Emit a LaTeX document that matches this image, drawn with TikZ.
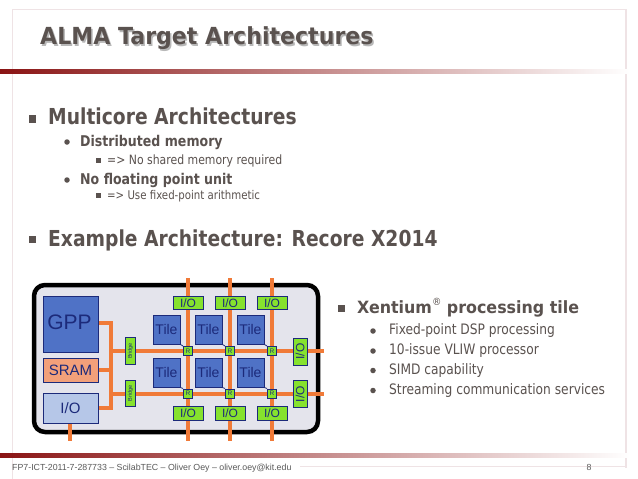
\documentclass[tikz,border=0pt]{standalone}
\usepackage{fontspec}
\setmainfont{DejaVu Sans}
\newfontfamily\tah[FakeStretch=0.85]{DejaVu Sans}
\newfontfamily\tahw[FakeStretch=0.94]{DejaVu Sans}
\newfontfamily\arialf{Liberation Sans}
\definecolor{txt}{HTML}{5A524F}
\definecolor{framec}{HTML}{EFE3E5}
\definecolor{darkred}{HTML}{8A1414}
\definecolor{chip}{HTML}{E4E4EC}
\definecolor{blu}{HTML}{4F72C6}
\definecolor{navy}{HTML}{1C2A7A}
\definecolor{sram}{HTML}{F2A07A}
\definecolor{lio}{HTML}{B6C7E8}
\definecolor{grn}{HTML}{86E22E}
\definecolor{orng}{HTML}{F07A38}
\pgfdeclarelayer{back}
\pgfdeclarelayer{lines}
\pgfsetlayers{back,lines,main}
\tikzset{
  txtnode/.style={anchor=base west, inner sep=0pt, text=txt, font=\tah},
  sqbul/.style={fill=txt, minimum size=#1, inner sep=0pt},
  dotbul/.style={circle, fill=txt, minimum size=#1, inner sep=0pt},
  box/.style={draw=navy, line width=1pt, inner sep=0pt, text=navy, font=\arialf},
  greenbox/.style={box, fill=grn},
  tilebox/.style={box, fill=blu, minimum width=27pt, minimum height=29pt, font=\arialf\fontsize{14}{14}\selectfont},
  rbox/.style={greenbox, minimum size=9pt, font=\arialf\fontsize{6.5}{6.5}\selectfont},
  iobox/.style={greenbox, minimum width=30pt, minimum height=13.5pt, font=\arialf\fontsize{12}{12}\selectfont},
  sidebox/.style={greenbox, minimum width=14pt, minimum height=27pt, font=\arialf\fontsize{12}{12}\selectfont},
  bridgebox/.style={greenbox, minimum width=9.5pt, minimum height=26.5pt, font=\arialf\fontsize{5.5}{5.5}\selectfont},
  bus/.style={draw=orng, line width=4pt},
}
\begin{document}
\begin{tikzpicture}[x=1pt,y=-1pt]
\begin{pgfonlayer}{back}
\fill[white] (0,0) rectangle (638,479);
\end{pgfonlayer}
\useasboundingbox (0,0) rectangle (638,479);
% frame
\begin{pgfonlayer}{back}
\draw[framec, line width=1.8pt] (12.5,479) -- (12.5,9.5) -- (626,9.5) -- (626,468);
\draw[framec, line width=1.2pt] (300,466.5) -- (626,466.5);
% gradient lines
\shade[left color=darkred, right color=white] (0,69) rectangle (630,73);
\shade[left color=darkred, right color=white] (0,453) rectangle (630,457);
\end{pgfonlayer}
% title
\node[txtnode, text=black!28, font=\tahw] at (41.5,46.5) {\fontsize{23.5}{23.5}\selectfont\bfseries ALMA Target Architectures};
\node[txtnode, font=\tahw] (title) at (40,45) {\fontsize{23.5}{23.5}\selectfont\bfseries ALMA Target Architectures};
% bullets level 1
\node[sqbul=7.5pt] (b1) at (32.5,119) {};
\node[txtnode] (t1) at (48,124) {\fontsize{22}{22}\selectfont\bfseries Multicore Architectures};
\node[dotbul=5.5pt] (b11) at (67,142) {};
\node[txtnode] (t11) at (80,146) {\fontsize{14.8}{14.8}\selectfont\bfseries Distributed memory};
\node[sqbul=5pt] (b111) at (98.5,160.5) {};
\node[txtnode] (t111) at (107,164) {\fontsize{12.8}{12.8}\selectfont =\textgreater{} No shared memory required};
\node[dotbul=5.5pt] (b12) at (67,180) {};
\node[txtnode] (t12) at (80,184) {\fontsize{14.8}{14.8}\selectfont\bfseries No floating point unit};
\node[sqbul=5pt] (b121) at (98.5,195.5) {};
\node[txtnode] (t121) at (107,199) {\fontsize{12}{12}\selectfont =\textgreater{} Use fixed-point arithmetic};
\node[sqbul=7.5pt] (b2) at (32.5,239.5) {};
\node[txtnode] (t2) at (48,246) {\fontsize{22}{22}\selectfont\bfseries Example Architecture: Recore X2014};
% Xentium
\node[sqbul=7pt] (b3) at (341,308) {};
\node[txtnode, font=\tahw] (t3) at (357,313) {\fontsize{16.9}{16.9}\selectfont\bfseries Xentium\raisebox{0.42em}{\fontsize{10}{10}\selectfont\mdseries ®} processing tile};
\node[dotbul=5.5pt] (b31) at (373,331) {};
\node[txtnode] (t31) at (389,334) {\fontsize{14.4}{14.4}\selectfont Fixed-point DSP processing};
\node[dotbul=5.5pt] (b32) at (373,351) {};
\node[txtnode] (t32) at (389,354) {\fontsize{14.4}{14.4}\selectfont 10-issue VLIW processor};
\node[dotbul=5.5pt] (b33) at (373,370.5) {};
\node[txtnode] (t33) at (389,374) {\fontsize{14.4}{14.4}\selectfont SIMD capability};
\node[dotbul=5.5pt] (b34) at (373,390.5) {};
\node[txtnode] (t34) at (389,394) {\fontsize{14.4}{14.4}\selectfont Streaming communication services};
% footer
\node[anchor=base west, inner sep=0pt, text=black!65, font=\arialf\fontsize{8.8}{8.8}\selectfont] (foot) at (12,470) {FP7-ICT-2011-7-287733 – ScilabTEC – Oliver Oey – oliver.oey@kit.edu};
\node[anchor=base, inner sep=0pt, text=black!65, font=\arialf\fontsize{8.8}{8.8}\selectfont] (page) at (589,470) {8};
% chip
\begin{pgfonlayer}{back}
\draw[line width=4.5pt, fill=chip, rounded corners=11pt] (34,285) rectangle (318,432);
\end{pgfonlayer}
\node[box, fill=blu, minimum width=55pt, minimum height=56pt] (gpp) at (70.5,324) {};
\node[text=navy, font=\arialf\fontsize{21}{21}\selectfont, inner sep=0pt] (gppt) at (69.5,322) {GPP};
\node[box, fill=sram, minimum width=55pt, minimum height=24pt, font=\arialf\fontsize{15}{15}\selectfont] (sram) at (70.5,370) {SRAM};
\node[box, fill=lio, minimum width=55pt, minimum height=30pt, font=\arialf\fontsize{15}{15}\selectfont] (lio) at (70.5,408) {I/O};
\node[bridgebox] (br1) at (130.5,351) {\rotatebox{90}{Bridge}};
\node[bridgebox] (br2) at (130.5,393.5) {\rotatebox{90}{Bridge}};
\foreach \i/\x in {1/188,2/230,3/272}{
  \node[iobox] (top\i) at (\x,303) {I/O};
  \node[iobox] (bot\i) at (\x,413.5) {I/O};
  \node[rbox] (ra\i) at (\x,351) {R};
  \node[rbox] (rb\i) at (\x,393.5) {R};
  \node[tilebox] (ta\i) at (\x-21.5,329.5) {Tile};
  \node[tilebox] (tb\i) at (\x-21.5,372.5) {Tile};
  \coordinate (ct\i) at (\x,278);
  \coordinate (cb\i) at (\x,441);
  \draw[navy, line width=0.8pt] (ta\i.south east) -- (ra\i.north west);
  \draw[navy, line width=0.8pt] (tb\i.south east) -- (rb\i.north west);
}
\node[sidebox] (ioa) at (300,351.5) {\rotatebox{90}{I/O}};
\node[sidebox] (iob) at (300,394) {\rotatebox{90}{I/O}};
\coordinate (ea) at (324,351);
\coordinate (eb) at (324,393.5);
\coordinate (j1) at (111,323);
\coordinate (j2) at (111,408);
\coordinate (ls) at (70,441);
\begin{pgfonlayer}{lines}
\draw[bus] (gpp.east |- j1) -- (j1) -- (j2) -- (lio.east |- j2);
\draw[bus] (sram.east) -- (sram.east -| j1);
\draw[bus] (br1.west -| j1) -- (br1.west);
\draw[bus] (br2.west -| j1) -- (br2.west);
\draw[bus] (br1.east) -- (ea);
\draw[bus] (br2.east) -- (eb);
\foreach \i in {1,2,3}{ \draw[bus] (ct\i) -- (cb\i); }
\draw[bus] (lio.south -| ls) -- (ls);
\end{pgfonlayer}
\end{tikzpicture}
\end{document}
